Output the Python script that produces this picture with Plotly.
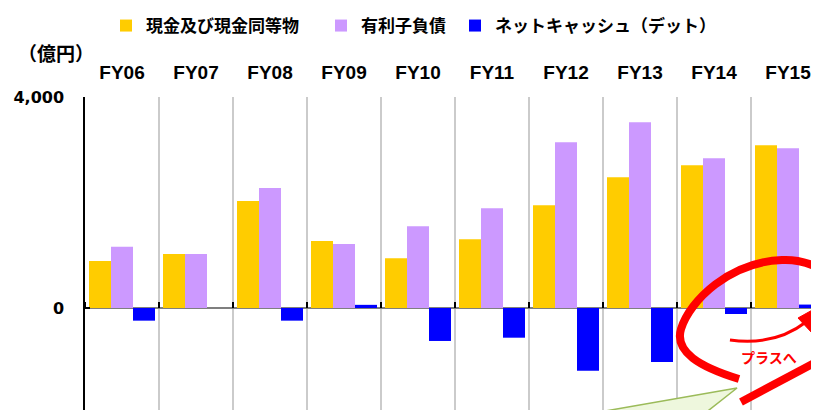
import plotly.graph_objects as go

years = ["FY06", "FY07", "FY08", "FY09", "FY10", "FY11", "FY12", "FY13", "FY14", "FY15"]
cash = [891, 1024, 2030, 1270, 942, 1302, 1947, 2478, 2705, 3084]
debt = [1162, 1024, 2275, 1213, 1549, 1890, 3141, 3520, 2838, 3027]
net = [-240, 0, -240, 60, -625, -563, -1190, -1023, -114, 65]

series_names = ["現金及び現金同等物", "有利子負債", "ネットキャッシュ（デット）"]
y_ticks = [0, 4000]
y_ticktext = ["0", "4,000"]
unit_label = "（億円）"
note_text = "プラスへ"

JP = "Noto Sans CJK JP"
# the page body has an 8px margin: figure origin sits at (8, 8) of the window
OFF = 8
SW, SH = 819, 410            # screenshot size
L, T = 85, 97                # plot-area left/top in screenshot pixels
PW, PH = SW - L, SH - T      # plot area reaches right/bottom edges of the window
W, H = SW - OFF, SH - OFF

xs = list(range(len(years)))


def P(x, y):
    return (x - L) / PW, (SH - y) / PH


def path(cmds):
    out = []
    for c in cmds:
        if isinstance(c, str):
            out.append(c)
        else:
            px, py = P(*c)
            out.append(f"{px:.4f},{py:.4f}")
    return " ".join(out)


fig = go.Figure()
legend_ids = ["legend", "legend2", "legend3"]
colors = ["#FFCC00", "#CC99FF", "#0000FF"]
for vals, name, col, lg in zip([cash, debt, net], series_names, colors, legend_ids):
    fig.add_trace(go.Bar(x=xs, y=vals, name=name, legend=lg,
                         marker=dict(color=col, line=dict(width=0))))

shapes = []
# green callout pointer
shapes.append(dict(type="path", xref="paper", yref="paper",
                   path=path(["M", (588, 414), "L", (737, 388), "L", (704, 414), "Z"]),
                   fillcolor="#EEF7DD", line=dict(color="#9BBB59", width=1.5)))
# red loop
shapes.append(dict(type="path", xref="paper", yref="paper",
                   path=path(["M", (739, 379), "C", (700, 367), (674, 352), (681, 329),
                              "C", (690, 300), (730, 262), (782, 260),
                              "C", (802, 259), (818, 266), (832, 276)]),
                   line=dict(color="#FF0000", width=8)))
shapes.append(dict(type="path", xref="paper", yref="paper",
                   path=path(["M", (741, 402), "L", (835, 352)]),
                   line=dict(color="#FF0000", width=8)))
# thin red arrow
shapes.append(dict(type="path", xref="paper", yref="paper",
                   path=path(["M", (730, 340), "Q", (775, 346), (806, 322)]),
                   line=dict(color="#FF0000", width=3)))
shapes.append(dict(type="path", xref="paper", yref="paper",
                   path=path(["M", (816, 308), "L", (798, 318), "L", (812, 333), "Z"]),
                   fillcolor="#FF0000", line=dict(color="#FF0000", width=1)))

annotations = [
    dict(text=f"<b>{unit_label}</b>", xref="paper", yref="paper",
         x=P(56, 0)[0], y=P(0, 52)[1], showarrow=False,
         font=dict(family=JP, size=19, color="black"), xanchor="center", yanchor="middle"),
    dict(text=f"<b>{note_text}</b>", xref="paper", yref="paper",
         x=P(769, 0)[0], y=P(0, 357)[1], showarrow=False,
         font=dict(family=JP, size=14, color="#FF0000"), xanchor="center", yanchor="middle"),
]

xr = [-0.5, -0.5 + PW / 74.0]
yr = [4000 - PH * 4000 / 211.0, 4000]

legend_font = dict(family=JP, size=17, color="black", weight="bold")
text_starts = [148, 363, 497]
legends = {}
for lg, ts in zip(legend_ids, text_starts):
    legends[lg] = dict(orientation="h", x=P(ts - 42, 0)[0], xanchor="left",
                       y=P(0, OFF)[1], yanchor="top", font=legend_font,
                       itemwidth=30, bgcolor="rgba(0,0,0,0)", borderwidth=0)

fig.update_layout(
    width=W, height=H,
    margin=dict(l=L - OFF, r=0, t=T - OFF, b=0, pad=0, autoexpand=False),
    paper_bgcolor="white", plot_bgcolor="white",
    barmode="group", bargap=0.108, bargroupgap=0,
    showlegend=True,
    **legends,
    xaxis=dict(range=xr, side="top", tickmode="array", tickvals=xs, ticktext=years,
               showgrid=False, ticks="", showline=False, zeroline=False,
               ticklabelstandoff=13, automargin=False,
               tickfont=dict(family="Liberation Sans", size=19, color="black", weight="bold"),
               minor=dict(tickmode="linear", tick0=-0.5, dtick=1, showgrid=True,
                          gridcolor="#CBCBCB", gridwidth=1.5, ticks="")),
    xaxis2=dict(range=xr, overlaying="x", anchor="free", position=P(0, 308)[1],
                side="top", tickmode="linear", tick0=-0.5, dtick=1, ticks="outside",
                ticklen=6, tickwidth=1.5, tickcolor="black", showticklabels=False,
                showgrid=False, showline=False, zeroline=False, automargin=False),
    yaxis=dict(range=yr, tickmode="array", tickvals=y_ticks, ticktext=y_ticktext,
               showgrid=False, zeroline=True, zerolinecolor="#7F7F7F", zerolinewidth=2,
               showline=True, linecolor="black", linewidth=1.5,
               ticks="inside", ticklen=5, tickwidth=1.5, tickcolor="black",
               ticklabelstandoff=16, automargin=False,
               tickfont=dict(family="DejaVu Sans", size=16, color="black", weight="bold")),
    shapes=shapes, annotations=annotations,
)
# invisible trace to activate xaxis2 (tick marks along the zero line)
fig.add_trace(go.Scatter(x=[0], y=[0], xaxis="x2", mode="markers",
                         marker=dict(opacity=0), showlegend=False, hoverinfo="skip"))

fig.write_html("out.html")
